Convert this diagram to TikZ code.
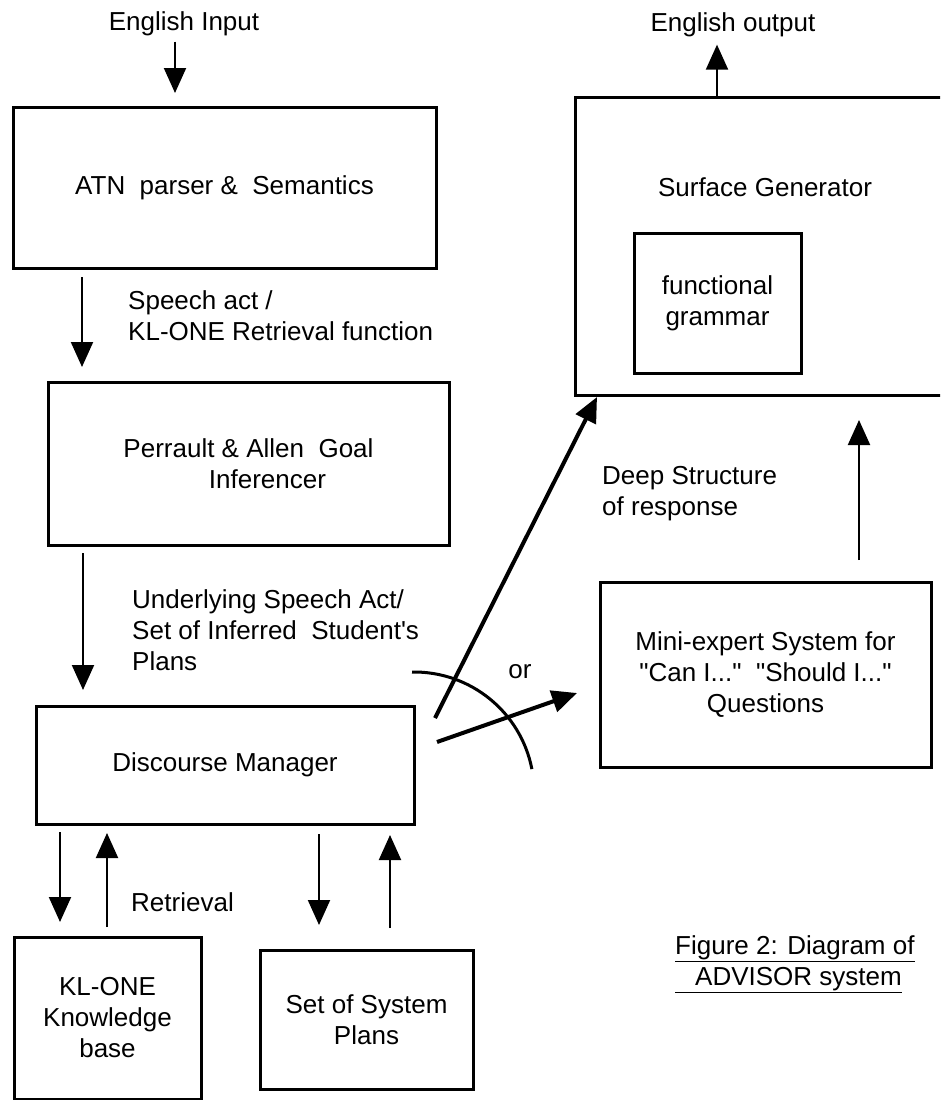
\documentclass[tikz,border=0pt]{standalone}
\usepackage{fontspec}
\setmainfont{Liberation Sans}[Ligatures=TeXOff]
\usetikzlibrary{arrows.meta}
\tikzstyle{block} = [rectangle, draw=black, line width=3pt, align=center, inner sep=0pt, outer sep=0pt]
\tikzstyle{arrow} = [line width=2pt, -{Triangle[length=25pt,width=22pt]}]
\tikzstyle{heavy} = [line width=4pt]
\tikzstyle{note} = [align=left, anchor=west, inner sep=0pt]

\begin{document}
\begin{tikzpicture}[x=1pt, y=-1pt, font=\fontsize{26}{31}\selectfont]
        \useasboundingbox (0,0) rectangle (940,1100);
        \clip (0,0) rectangle (940,1100);

        % left column
        \node (eng_in) at (184,24) {English Input};
        \node (atn_parser) [block, minimum width=423pt, minimum height=161pt] at (224.5,187.5) {ATN\ \ parser \&\ \ Semantics};
        \node (goal_inf) [block, minimum width=401pt, minimum height=163pt] at (248.5,463.5) {Perrault \& Allen\ \ Goal\\\hspace*{38pt}Inferencer};
        \node (disc_mgr) [block, minimum width=378pt, minimum height=118pt] at (225,765) {Discourse Manager};
        \node (kl_one) [block, minimum width=187pt, minimum height=162pt] at (107.5,1018) {KL-ONE\\Knowledge\\base};
        \node (sys_plans) [block, minimum width=213pt, minimum height=139pt] at (366.5,1019.5) {Set of System\\Plans};

        % right column
        \node (eng_out) at (733,25) {English output};
        \node (surf_gen) [block, minimum width=385pt, minimum height=298pt] at (767.5,246) {};
        \node (surf_txt) at (765,187) {Surface Generator};
        \node (func_gram) [block, minimum width=167pt, minimum height=140pt] at (717.5,303) {functional\\grammar};
        \node (mini_expert) [block, minimum width=331pt, minimum height=185pt] at (765.5,674.5) {Mini-expert System for\\"Can I..."\ \ "Should I..."\\Questions};

        % labels
        \node (speech_lbl) [note] at (128,316) {Speech act /\\KL-ONE Retrieval function};
        \node (plans_lbl) [note] at (132,630) {Underlying Speech Act/\\Set of Inferred\ \ Student's\\Plans};
        \node (retr_lbl) at (182.5,902) {Retrieval};
        \node (or_lbl) at (520,672) {or};
        \node (deep_lbl) [note] at (602,494) {Deep Structure\\of response};
        \node (caption) [note] at (675,964) {\underline{Figure 2: Diagram of}\\\underline{\hspace*{20pt}ADVISOR system}};

        \draw [arrow] ([xshift=-9pt,yshift=-2pt]eng_in.south) -- ([xshift=-49.5pt,yshift=14pt]atn_parser.north);
        \draw [arrow] ([xshift=-142.5pt,yshift=-9pt]atn_parser.south) -- ([xshift=-166.5pt,yshift=15pt]goal_inf.north);
        \draw [arrow] ([xshift=-165.5pt,yshift=-8pt]goal_inf.south) -- ([xshift=-142pt,yshift=16pt]disc_mgr.north);
        \draw [arrow] ([xshift=-165pt,yshift=-8pt]disc_mgr.south) -- ([xshift=-47.5pt,yshift=15pt]kl_one.north);
        \draw [arrow] ([xshift=-0.5pt,yshift=10pt]kl_one.north) -- ([xshift=-118pt,yshift=-9pt]disc_mgr.south);
        \draw [arrow] ([xshift=94pt,yshift=-10pt]disc_mgr.south) -- ([xshift=-47.5pt,yshift=25pt]sys_plans.north);
        \draw [arrow] ([xshift=23.5pt,yshift=22pt]sys_plans.north) -- ([xshift=165pt,yshift=-11pt]disc_mgr.south);
        \draw [arrow, heavy] ([xshift=21pt,yshift=-12pt]disc_mgr.north east) -- ([xshift=22pt,yshift=-2pt]surf_gen.south west);
        \draw [arrow, heavy] ([xshift=23pt,yshift=-36pt]disc_mgr.north east) -- ([xshift=-23pt,yshift=-18.5pt]mini_expert.west);
        \draw [arrow] ([xshift=93.5pt,yshift=22pt]mini_expert.north) -- ([xshift=91.5pt,yshift=-25pt]surf_gen.south);
        \draw [arrow] ([xshift=-50.5pt]surf_gen.north) -- ([xshift=-16pt,yshift=-4pt]eng_out.south);
        % "or" arc across the two outputs
        \draw [line width=3pt] ([xshift=-2pt,yshift=34pt]disc_mgr.north east) arc[start angle=91, end angle=11, radius=120pt];
\end{tikzpicture}
\end{document}
